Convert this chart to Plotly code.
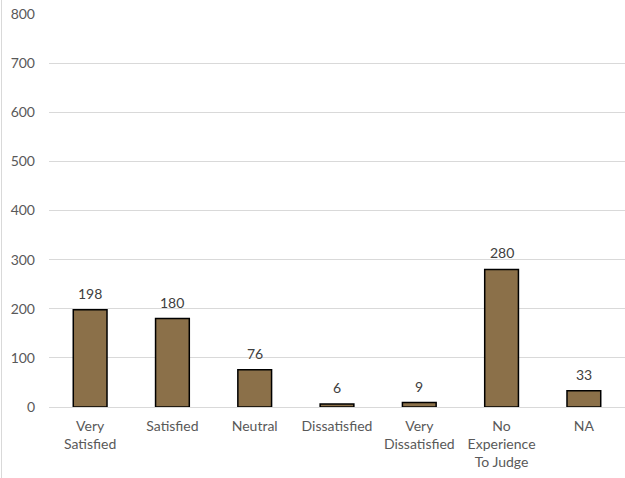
import plotly.graph_objects as go

categories = ["Very<br>Satisfied", "Satisfied", "Neutral", "Dissatisfied",
              "Very<br>Dissatisfied", "No<br>Experience<br>To Judge", "NA"]
values = [198, 180, 76, 6, 9, 280, 33]
y_ticks = [0, 100, 200, 300, 400, 500, 600, 700, 800]

FONT = "Lato, Open Sans, Liberation Sans, sans-serif"

fig = go.Figure()
fig.add_trace(go.Bar(
    x=categories, y=values,
    marker=dict(color="#8B7049", line=dict(color="#000000", width=1.5)),
    width=0.41,
    cliponaxis=False,
    hoverinfo="skip",
))

for c, v in zip(categories, values):
    fig.add_annotation(x=c, y=v, text=str(v), showarrow=False,
                       yanchor="bottom", yshift=6,
                       font=dict(family=FONT, size=14, color="#404040"))

fig.update_layout(
    width=625, height=478,
    margin=dict(l=49, r=0, t=14, b=71),
    paper_bgcolor="white", plot_bgcolor="white",
    showlegend=False,
    font=dict(family=FONT, size=14, color="#595959"),
    xaxis=dict(
        showgrid=False, showline=True, linecolor="#d9d9d9", linewidth=1,
        ticks="", tickfont=dict(size=14, color="#595959"),
        tickangle=0, ticklabelstandoff=6, automargin=False,
    ),
    yaxis=dict(
        range=[0, 800], tickvals=y_ticks, showgrid=True, gridcolor="#d9d9d9",
        gridwidth=1, zeroline=False, showline=False, ticks="",
        tickfont=dict(size=14, color="#595959"), ticklabelstandoff=13,
        automargin=False,
    ),
    shapes=[dict(type="line", xref="paper", yref="paper",
                 x0=-47.5/576, x1=-47.5/576, y0=-71/393, y1=1 + 14/393,
                 line=dict(color="#d9d9d9", width=1))],
)

fig.write_html("out.html", config={"displayModeBar": False},
               post_script="document.body.style.margin='0';")
